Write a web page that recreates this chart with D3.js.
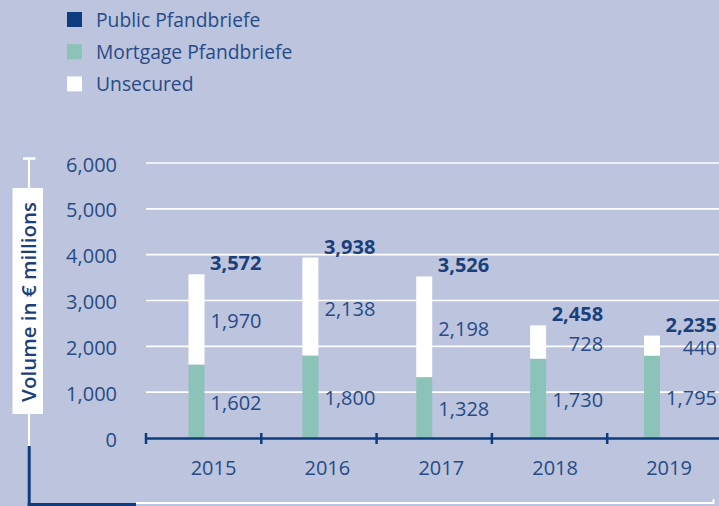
<!DOCTYPE html>
<html>
<head>
<meta charset="utf-8">
<script src="https://cdn.jsdelivr.net/npm/d3@7/dist/d3.min.js"></script>
<style>
  html, body { margin: 0; padding: 0; background: #bcc4de; }
  svg { display: block; font-family: "Open Sans", sans-serif; }
</style>
</head>
<body>
<div id="chart"></div>
<script>
var years = ['2015', '2016', '2017', '2018', '2019']
var mortgage = [1602, 1800, 1328, 1730, 1795]
var unsecured = [1970, 2138, 2198, 728, 440]
var totals = [3572, 3938, 3526, 2458, 2235]
var yTicks = [0, 1000, 2000, 3000, 4000, 5000, 6000]
var legendKeys = ['Public Pfandbriefe', 'Mortgage Pfandbriefe', 'Unsecured']

var navy = '#0e3c7e'
var teal = '#8cc3b9'
var textCol = '#284b86'
var boldCol = '#1b3f7b'

var width = 719, height = 506

var svg = d3.select('#chart')
    .append('svg')
    .attr('width', width)
    .attr('height', height)

svg.append('rect')
    .attr('width', width)
    .attr('height', height)
    .attr('fill', '#bcc4de')

var y = d3.scaleLinear()
    .domain([0, 6000])
    .range([438, 163])

// band scale for the axis ticks
var xAxis = d3.scaleBand()
    .domain(years)
    .range([146, 722.5])

// bars sit a bit left inside each band
var xBar = d3.scalePoint()
    .domain(years)
    .range([188.5, 644])
var barW = 16

// legend
var color = d3.scaleOrdinal()
    .domain(legendKeys)
    .range([navy, teal, '#ffffff'])

svg.selectAll('legrect')
    .data(legendKeys)
    .enter()
    .append('rect')
        .attr('x', 67)
        .attr('y', function(d, i) { return 12 + i * 32.2 })
        .attr('width', 15)
        .attr('height', 15)
        .attr('fill', function(d) { return color(d) })

svg.selectAll('leglabel')
    .data(legendKeys)
    .enter()
    .append('text')
        .attr('x', 96)
        .attr('y', function(d, i) { return 19.5 + i * 32.2 })
        .attr('dominant-baseline', 'central')
        .attr('font-size', 19.3)
        .attr('fill', textCol)
        .text(function(d) { return d })

// grid lines
svg.selectAll('grid')
    .data(yTicks.filter(function(d) { return d > 0 }))
    .enter()
    .append('line')
        .attr('x1', 146)
        .attr('x2', width)
        .attr('y1', function(d) { return y(d) })
        .attr('y2', function(d) { return y(d) })
        .attr('stroke', '#ffffff')
        .attr('stroke-width', 1.6)

// y tick labels
svg.selectAll('ylab')
    .data(yTicks)
    .enter()
    .append('text')
        .attr('x', 117)
        .attr('y', function(d) { return y(d) + 1 })
        .attr('text-anchor', 'end')
        .attr('dominant-baseline', 'central')
        .attr('font-size', 20)
        .attr('fill', textCol)
        .text(function(d) { return d3.format(',')(d) })

// stacked bars
var stackData = years.map(function(yr, i) {
    return { year: yr, mortgage: mortgage[i], unsecured: unsecured[i], total: totals[i] }
})

svg.selectAll('mbar')
    .data(stackData)
    .enter()
    .append('rect')
        .attr('x', function(d) { return xBar(d.year) })
        .attr('y', function(d) { return y(d.mortgage) })
        .attr('width', barW)
        .attr('height', function(d) { return y(0) - y(d.mortgage) })
        .attr('fill', teal)

svg.selectAll('ubar')
    .data(stackData)
    .enter()
    .append('rect')
        .attr('x', function(d) { return xBar(d.year) })
        .attr('y', function(d) { return y(d.mortgage + d.unsecured) })
        .attr('width', barW)
        .attr('height', function(d) { return y(d.mortgage) - y(d.mortgage + d.unsecured) })
        .attr('fill', '#ffffff')

var fmt = d3.format(',')
var labX = function(d) { return xBar(d.year) + barW + 57 }

svg.selectAll('mlab')
    .data(stackData)
    .enter()
    .append('text')
        .attr('x', labX)
        .attr('y', function(d) { return (y(0) + y(d.mortgage)) / 2 + 1 })
        .attr('text-anchor', 'end')
        .attr('dominant-baseline', 'central')
        .attr('font-size', 20)
        .attr('fill', textCol)
        .text(function(d) { return fmt(d.mortgage) })

svg.selectAll('ulab')
    .data(stackData)
    .enter()
    .append('text')
        .attr('x', labX)
        .attr('y', function(d) { return (y(d.mortgage) + y(d.mortgage + d.unsecured)) / 2 + 1.5 })
        .attr('text-anchor', 'end')
        .attr('dominant-baseline', 'central')
        .attr('font-size', 20)
        .attr('fill', textCol)
        .text(function(d) { return fmt(d.unsecured) })

svg.selectAll('tlab')
    .data(stackData)
    .enter()
    .append('text')
        .attr('x', labX)
        .attr('y', function(d) { return y(d.total) - 4 })
        .attr('text-anchor', 'end')
        .attr('font-size', 20)
        .attr('font-weight', 'bold')
        .attr('fill', boldCol)
        .text(function(d) { return fmt(d.total) })

// x axis line and ticks
svg.append('line')
    .attr('x1', 146)
    .attr('x2', width)
    .attr('y1', 438.5)
    .attr('y2', 438.5)
    .attr('stroke', navy)
    .attr('stroke-width', 2.5)

svg.selectAll('xtick')
    .data(years)
    .enter()
    .append('line')
        .attr('x1', function(d) { return xAxis(d) })
        .attr('x2', function(d) { return xAxis(d) })
        .attr('y1', 433)
        .attr('y2', 444)
        .attr('stroke', navy)
        .attr('stroke-width', 2.5)

svg.selectAll('xlab')
    .data(years)
    .enter()
    .append('text')
        .attr('x', function(d) { return xBar(d) + 25 })
        .attr('y', 475)
        .attr('text-anchor', 'middle')
        .attr('font-size', 20)
        .attr('fill', textCol)
        .text(function(d) { return d })

// decorative frame on the left
svg.append('line')
    .attr('x1', 23).attr('x2', 35.5)
    .attr('y1', 158.5).attr('y2', 158.5)
    .attr('stroke', '#ffffff').attr('stroke-width', 2.5)
svg.append('line')
    .attr('x1', 29).attr('x2', 29)
    .attr('y1', 158).attr('y2', 446)
    .attr('stroke', '#ffffff').attr('stroke-width', 2.2)
svg.append('line')
    .attr('x1', 29.2).attr('x2', 29.2)
    .attr('y1', 446).attr('y2', 506)
    .attr('stroke', navy).attr('stroke-width', 3)
svg.append('line')
    .attr('x1', 27.7).attr('x2', 136)
    .attr('y1', 504.5).attr('y2', 504.5)
    .attr('stroke', navy).attr('stroke-width', 3)
svg.append('line')
    .attr('x1', 136).attr('x2', 714)
    .attr('y1', 503).attr('y2', 503)
    .attr('stroke', '#ffffff').attr('stroke-width', 2)
svg.append('line')
    .attr('x1', 713.5).attr('x2', 713.5)
    .attr('y1', 499).attr('y2', 504)
    .attr('stroke', '#ffffff').attr('stroke-width', 2)

svg.append('rect')
    .attr('x', 12.5)
    .attr('y', 188)
    .attr('width', 30.5)
    .attr('height', 226)
    .attr('fill', '#ffffff')

svg.append('text')
    .attr('transform', 'translate(28,302) rotate(-90)')
    .attr('text-anchor', 'middle')
    .attr('dominant-baseline', 'central')
    .attr('font-size', 20.5)
    .attr('font-weight', 600)
    .attr('fill', boldCol)
    .text('Volume in € millions')
</script>
</body>
</html>
